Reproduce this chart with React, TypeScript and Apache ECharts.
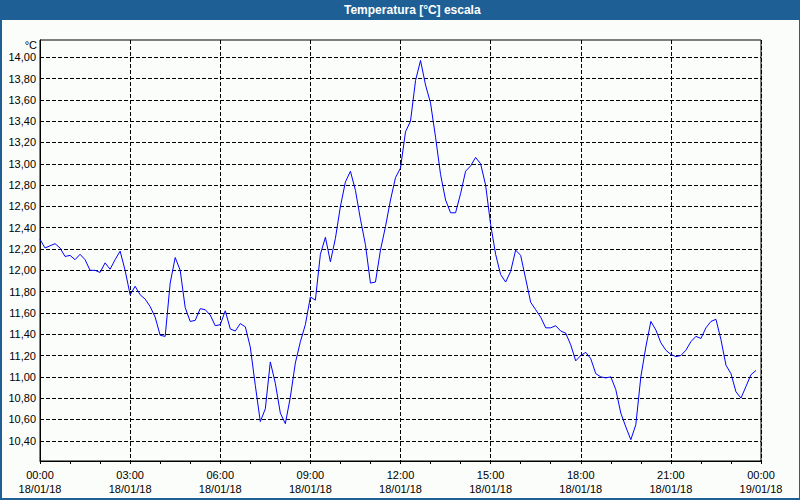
import React, { useEffect, useRef } from "react";
import * as echarts from "echarts";

// Sample period of the logger (minutes) starting 18/01/18 00:00
const sampleStepMinutes = 10;

// Temperature readings (°C), one every 10 minutes from 00:00
const temperatures = [
  12.29, 12.21, 12.23, 12.25, 12.21, 12.13, 12.14, 12.1, 12.15, 12.1,
  12.0, 12.0, 11.98, 12.07, 12.01, 12.1, 12.18, 12.0, 11.77, 11.85,
  11.77, 11.73, 11.66, 11.56, 11.39, 11.38, 11.88, 12.12, 12.0, 11.65,
  11.52, 11.53, 11.64, 11.63, 11.58, 11.48, 11.49, 11.62, 11.45, 11.43,
  11.5, 11.47, 11.28, 10.92, 10.58, 10.7, 11.14, 10.94, 10.66, 10.56,
  10.81, 11.13, 11.33, 11.49, 11.75, 11.72, 12.15, 12.31, 12.08, 12.3,
  12.6, 12.83, 12.93, 12.75, 12.48, 12.24, 11.88, 11.89, 12.19, 12.41,
  12.66, 12.87, 12.96, 13.3, 13.4, 13.78, 13.97, 13.74, 13.57, 13.25,
  12.9, 12.66, 12.54, 12.54, 12.72, 12.93, 12.98, 13.06, 13.0, 12.8,
  12.43, 12.15, 11.96, 11.89, 11.99, 12.19, 12.14, 11.92, 11.7, 11.63,
  11.56, 11.46, 11.46, 11.48, 11.43, 11.41, 11.3, 11.15, 11.2, 11.23,
  11.17, 11.03, 11.0, 10.99, 11.0, 10.88, 10.66, 10.53, 10.41, 10.55,
  11.0, 11.28, 11.52, 11.44, 11.32, 11.25, 11.21, 11.19, 11.2, 11.25,
  11.33, 11.38, 11.36, 11.46, 11.52, 11.54, 11.35, 11.11, 11.03, 10.86,
  10.8, 10.91, 11.02, 11.06,
];

// X tick labels (every 3 hours)
const timeLabels = ["00:00", "03:00", "06:00", "09:00", "12:00", "15:00", "18:00", "21:00", "00:00"];
const dateLabels = ["18/01/18", "18/01/18", "18/01/18", "18/01/18", "18/01/18", "18/01/18", "18/01/18", "18/01/18", "19/01/18"];

// Y tick values
const yTicks = [10.4, 10.6, 10.8, 11.0, 11.2, 11.4, 11.6, 11.8, 12.0, 12.2, 12.4, 12.6, 12.8, 13.0, 13.2, 13.4, 13.6, 13.8, 14.0];

const titleText = "Temperatura [°C] escala";
const unitText = "°C";

const FONT = "'Liberation Sans', Arial, sans-serif";
const BLUE_BAR = "#1e5f96";

export default function App() {
  const ref = useRef<HTMLDivElement>(null);

  useEffect(() => {
    document.body.style.margin = "0";
    if (!ref.current) return;
    const chart = echarts.init(ref.current, null, { renderer: "svg" });

    const data = temperatures.map((v, i) => [(i * sampleStepMinutes) / 60, v]);

    chart.setOption({
      animation: false,
      backgroundColor: "#fbfdfb",
      textStyle: { fontFamily: FONT },
      grid: {
        left: 40,
        right: 39,
        top: 40,
        bottom: 39,
        show: true,
        borderColor: "#000",
        borderWidth: 1,
        backgroundColor: "transparent",
      },
      xAxis: {
        type: "value",
        min: 0,
        max: 24,
        interval: 3,
        axisLine: { show: true, lineStyle: { color: "#000", width: 1 } },
        axisTick: { show: true, length: 3, lineStyle: { color: "#000" } },
        minorTick: { show: true, splitNumber: 3, length: 3, lineStyle: { color: "#000" } },
        splitLine: { show: true, lineStyle: { color: "#000", type: [4, 2], width: 1 } },
        axisLabel: {
          margin: 7,
          color: "#000",
          fontSize: 11,
          fontFamily: FONT,
          lineHeight: 14,
          formatter: (v: number) => {
            const idx = Math.round(v / 3);
            return `${timeLabels[idx] ?? ""}\n${dateLabels[idx] ?? ""}`;
          },
        },
      },
      yAxis: {
        type: "value",
        min: 10.21,
        max: 14.162,
        axisLine: { show: true, lineStyle: { color: "#000", width: 1 } },
        axisTick: { show: false, customValues: yTicks },
        splitLine: { show: true, lineStyle: { color: "#000", type: [4, 2], width: 1 } },
        axisLabel: {
          customValues: yTicks,
          margin: 4,
          color: "#000",
          fontSize: 11,
          fontFamily: FONT,
          formatter: (v: number) => v.toFixed(2).replace(".", ","),
        },
      },
      graphic: [
        { type: "rect", shape: { x: 0, y: 0, width: 800, height: 20 }, style: { fill: BLUE_BAR }, z: 100 },
        { type: "rect", shape: { x: 0, y: 0, width: 2, height: 500 }, style: { fill: BLUE_BAR }, z: 100 },
        { type: "rect", shape: { x: 799, y: 0, width: 1, height: 500 }, style: { fill: BLUE_BAR }, z: 100 },
        { type: "rect", shape: { x: 0, y: 498, width: 800, height: 2 }, style: { fill: BLUE_BAR }, z: 100 },
        {
          type: "text",
          x: 344,
          y: 10,
          z: 101,
          style: {
            text: titleText,
            fill: "#fff",
            font: `bold 12px ${FONT}`,
            align: "left",
            verticalAlign: "middle",
          },
        },
        {
          type: "text",
          x: 37,
          y: 45,
          z: 101,
          style: {
            text: unitText,
            fill: "#000",
            font: `11px ${FONT}`,
            align: "right",
            verticalAlign: "middle",
          },
        },
      ],
      series: [
        {
          type: "line",
          data,
          showSymbol: false,
          symbol: "none",
          lineStyle: { color: "#0000ff", width: 1 },
          clip: true,
        },
      ],
    });

    return () => chart.dispose();
  }, []);

  return <div ref={ref} style={{ width: 800, height: 500 }} />;
}
